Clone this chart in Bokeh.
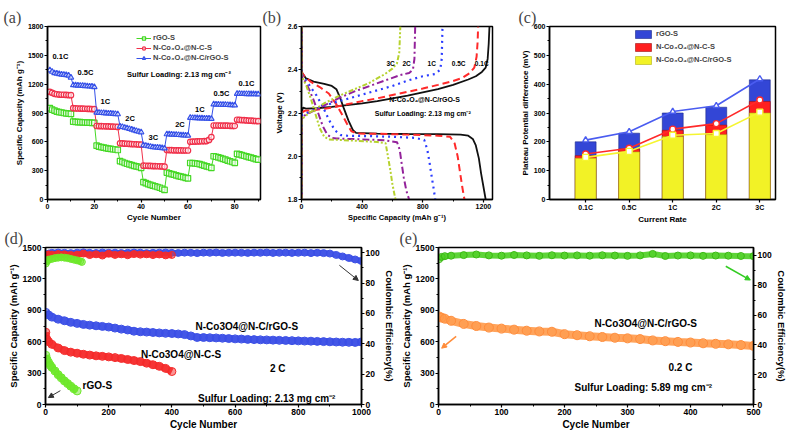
from bokeh.plotting import figure
from bokeh.layouts import column, row
from bokeh.models import (Range1d, LinearAxis, SingleIntervalTicker, FixedTicker,
                          NumeralTickFormatter, Label, Legend, LegendItem, Arrow, NormalHead)
from bokeh.embed import file_html
from bokeh.resources import INLINE

# ---------------- data: panel (a) rate capability ----------------
a_cycles = list(range(1, 91))
a_rates = ["0.1C", "0.5C", "1C", "2C", "3C", "2C", "1C", "0.5C", "0.1C"]
a_rgo = [950, 935, 925, 915, 910, 905, 900, 897, 893, 890,
         810, 808, 806, 805, 803, 802, 800, 800, 798, 797,
         560, 550, 545, 540, 535, 530, 527, 523, 520, 515,
         400, 390, 380, 372, 365, 358, 350, 345, 338, 330,
         180, 170, 160, 152, 145, 138, 130, 122, 112, 100,
         280, 272, 265, 258, 250, 244, 238, 232, 226, 220,
         380, 378, 376, 372, 368, 360, 352, 345, 338, 330,
         450, 445, 438, 430, 422, 415, 405, 398, 390, 382,
         475, 470, 462, 455, 448, 440, 435, 428, 420, 415]
a_nc = [1120, 1110, 1100, 1095, 1092, 1090, 1090, 1088, 1087, 1085,
        950, 948, 947, 946, 945, 944, 943, 942, 941, 940,
        765, 764, 763, 762, 761, 760, 759, 758, 757, 755,
        585, 583, 581, 580, 578, 577, 575, 574, 572, 570,
        352, 351, 350, 349, 348, 347, 346, 345, 344, 342,
        515, 514, 513, 512, 512, 511, 511, 510, 510, 510,
        600, 602, 603, 604, 605, 606, 607, 608, 620, 650,
        770, 770, 770, 769, 769, 768, 768, 767, 766, 765,
        830, 828, 826, 825, 823, 821, 820, 818, 817, 815]
a_ncrgo = [1345, 1330, 1315, 1310, 1305, 1300, 1298, 1295, 1290, 1270,
           1190, 1188, 1186, 1185, 1183, 1181, 1179, 1177, 1175, 1170,
           905, 903, 901, 900, 898, 896, 894, 892, 890, 888,
           760, 755, 748, 742, 735, 728, 720, 713, 706, 700,
           565, 560, 555, 550, 545, 542, 540, 538, 535, 532,
           680, 678, 676, 675, 673, 672, 670, 668, 667, 665,
           850, 849, 848, 847, 846, 845, 844, 843, 842, 840,
           990, 989, 988, 987, 986, 985, 984, 983, 982, 980,
           1100, 1100, 1099, 1099, 1098, 1098, 1097, 1097, 1096, 1095]
series_names = ["rGO-S", "N-Co\u2083O\u2084@N-C-S", "N-Co\u2083O\u2084@N-C/rGO-S"]

# ---------------- data: panel (b) voltage profiles ----------------
b_rates = ["0.1C", "0.5C", "1C", "2C", "3C"]
b_dis_cap = [
    [0, 0, 5, 30, 80, 150, 200, 230, 255, 280, 310, 340, 360, 500, 700, 900, 1050, 1100, 1130, 1150, 1170, 1185, 1200, 1215],
    [0, 0, 20, 60, 120, 180, 230, 270, 300, 330, 370, 500, 700, 900, 980, 1010, 1030, 1045, 1060, 1075],
    [0, 0, 20, 60, 100, 140, 180, 220, 260, 300, 450, 600, 750, 810, 830, 845, 860, 872, 882],
    [0, 0, 20, 50, 80, 110, 140, 170, 200, 230, 400, 550, 630, 648, 660, 675, 692, 710],
    [0, 0, 15, 30, 60, 90, 120, 150, 180, 350, 500, 555, 570, 585, 600, 620],
]
b_dis_v = [
    [2.6, 2.40, 2.385, 2.36, 2.345, 2.335, 2.325, 2.31, 2.27, 2.22, 2.165, 2.12, 2.108, 2.105, 2.103, 2.102, 2.10, 2.095, 2.08, 2.05, 1.99, 1.92, 1.86, 1.80],
    [2.6, 2.39, 2.37, 2.345, 2.32, 2.29, 2.24, 2.19, 2.15, 2.115, 2.105, 2.104, 2.10, 2.095, 2.09, 2.06, 2.00, 1.93, 1.86, 1.80],
    [2.6, 2.38, 2.36, 2.32, 2.28, 2.23, 2.17, 2.12, 2.098, 2.095, 2.093, 2.09, 2.085, 2.075, 2.03, 1.97, 1.90, 1.85, 1.80],
    [2.6, 2.37, 2.35, 2.31, 2.26, 2.20, 2.14, 2.10, 2.085, 2.082, 2.078, 2.074, 2.065, 2.03, 1.97, 1.90, 1.84, 1.80],
    [2.6, 2.37, 2.35, 2.33, 2.27, 2.20, 2.13, 2.09, 2.078, 2.072, 2.066, 2.06, 2.00, 1.94, 1.87, 1.80],
]
b_chg_cap = [
    [0, 0, 10, 30, 100, 200, 300, 400, 500, 600, 700, 800, 900, 1000, 1100, 1150, 1190, 1215, 1228, 1235, 1240],
    [0, 0, 20, 100, 200, 300, 400, 500, 600, 700, 800, 900, 1000, 1060, 1110, 1140, 1155, 1162, 1165],
    [0, 0, 100, 200, 300, 400, 500, 600, 700, 800, 880, 915, 925, 930],
    [0, 0, 50, 150, 250, 350, 450, 550, 650, 710, 735, 745, 750],
    [0, 0, 50, 150, 250, 350, 450, 550, 600, 630, 645, 652],
]
b_chg_v = [
    [1.8, 2.20, 2.225, 2.22, 2.222, 2.228, 2.236, 2.245, 2.255, 2.268, 2.28, 2.295, 2.31, 2.33, 2.355, 2.37, 2.39, 2.41, 2.45, 2.52, 2.6],
    [1.8, 2.20, 2.21, 2.215, 2.225, 2.24, 2.255, 2.268, 2.283, 2.298, 2.313, 2.33, 2.348, 2.362, 2.385, 2.41, 2.46, 2.53, 2.6],
    [1.8, 2.19, 2.22, 2.245, 2.265, 2.285, 2.305, 2.325, 2.35, 2.37, 2.38, 2.40, 2.45, 2.6],
    [1.8, 2.18, 2.20, 2.235, 2.27, 2.30, 2.325, 2.35, 2.375, 2.385, 2.40, 2.45, 2.6],
    [1.8, 2.17, 2.20, 2.245, 2.28, 2.31, 2.34, 2.38, 2.405, 2.43, 2.48, 2.6],
]

# ---------------- data: panel (c) plateau potential difference ----------------
c_rates = ["0.1C", "0.5C", "1C", "2C", "3C"]
c_pos = [1, 2, 3, 4, 5]
c_bar_rgo = [200, 230, 300, 320, 415]
c_bar_nc = [152, 175, 240, 258, 340]
c_bar_ncrgo = [143, 165, 218, 225, 300]
c_line_rgo = [206, 235, 305, 325, 418]
c_line_nc = [158, 178, 244, 263, 345]
c_line_ncrgo = [146, 167, 223, 229, 303]

# ---------------- data: panel (d) long cycling at 2 C ----------------
d_blue_cyc = [1, 10, 20, 40, 60, 80, 100, 120, 140, 160, 180, 200, 220, 240, 260, 280, 300, 320, 340, 360,
              380, 400, 420, 440, 460, 480, 500, 520, 540, 560, 580, 600, 620, 640, 660, 680, 700, 720, 740,
              760, 780, 800, 820, 840, 860, 880, 900, 920, 940, 960, 980, 1000]
d_blue_cap = [880, 855, 835, 815, 800, 785, 775, 765, 758, 752, 746, 740, 730, 720, 712, 700, 695, 692, 688, 684,
              680, 678, 674, 668, 655, 640, 640, 638, 636, 633, 630, 627, 625, 622, 620, 618, 617, 615, 613,
              612, 610, 608, 606, 605, 603, 601, 599, 597, 595, 594, 593, 598]
d_blue_ce = [98.0, 99.5, 100.0, 100.2, 100.0, 99.8, 100.1, 100.3, 100.0, 99.9, 100.2, 100.0, 100.1, 99.9, 100.0,
             100.2, 100.1, 99.8, 100.0, 100.1, 100.2, 100.0, 99.9, 100.1, 100.0, 99.8, 100.1, 100.0, 100.2, 99.9,
             100.0, 100.1, 100.0, 99.9, 100.1, 100.0, 100.2, 99.9, 100.0, 100.1, 99.9, 100.0, 100.1, 99.8, 100.0,
             99.8, 99.5, 98.6, 97.6, 96.6, 95.6, 94.6]
d_red_cyc = [1, 5, 10, 20, 40, 60, 80, 100, 120, 140, 160, 180, 200, 220, 240, 260, 280, 300, 320, 340, 360, 380, 400]
d_red_cap = [690, 620, 600, 575, 540, 515, 500, 490, 480, 472, 465, 460, 455, 448, 440, 430, 420, 410, 395, 380, 365, 345, 315]
d_red_ce = [97.0, 98.5, 99.0, 98.8, 99.2, 99.0, 98.6, 98.8, 99.5, 98.5, 99.0, 98.2, 99.4, 98.6, 99.0, 98.4, 99.2,
            98.8, 99.0, 98.5, 98.9, 98.3, 98.6]
d_green_cyc = [1, 5, 10, 15, 20, 30, 40, 50, 60, 70, 80, 90, 100]
d_green_cap = [470, 430, 400, 375, 355, 320, 285, 255, 225, 200, 175, 150, 130]
d_green_ce_cyc = [1, 5, 10, 20, 30, 40, 50, 60, 70, 80, 90, 100, 110, 115]
d_green_ce = [93.0, 94.5, 95.5, 96.0, 96.5, 96.8, 97.0, 96.8, 96.5, 96.0, 95.5, 95.0, 94.5, 94.0]

# ---------------- data: panel (e) high loading at 0.2 C ----------------
e_cyc = [1, 5, 10, 20, 40, 60, 80, 100, 120, 140, 160, 180, 200, 220, 240, 260, 280, 300, 320, 340,
         360, 380, 400, 420, 440, 460, 480, 500]
e_cap = [840, 830, 820, 800, 770, 750, 735, 725, 715, 705, 698, 695, 672, 662, 652, 645, 638, 632, 625, 612,
         605, 598, 592, 585, 580, 575, 568, 560]
e_ce = [97.5, 99.0, 99.5, 99.8, 100.2, 100.6, 100.0, 99.8, 100.3, 100.0, 99.7, 100.1, 99.9, 100.0, 99.8,
        100.1, 99.9, 99.7, 100.0, 101.0, 99.6, 99.9, 100.0, 99.7, 99.9, 99.8, 99.6, 99.5]

FONT = "Liberation Sans"
SERIF = "Liberation Serif"


def make_fig(width, height, xr, yr, ml, mr, mt, mb, title, offset, tsize="16px"):
    p = figure(width=width, height=height, x_range=Range1d(*xr), y_range=Range1d(*yr),
               min_border_left=ml, min_border_right=mr, min_border_top=mt, min_border_bottom=mb,
               output_backend="svg", toolbar_location=None, title=title)
    p.xgrid.visible = False
    p.ygrid.visible = False
    p.outline_line_color = "black"
    p.outline_line_width = 1.5
    p.outline_line_alpha = 1.0
    p.background_fill_color = "white"
    p.border_fill_color = "white"
    p.title.text_font = SERIF
    p.title.text_font_size = tsize
    p.title.text_font_style = "normal"
    p.title.align = "left"
    p.title.offset = offset
    p.title.standoff = 2
    return p


def style_axis(ax, tick_size, label_size):
    ax.major_label_text_font = FONT
    ax.major_label_text_font_style = "bold"
    ax.major_label_text_font_size = tick_size
    ax.major_label_text_color = "black"
    ax.axis_label_text_font = FONT
    ax.axis_label_text_font_style = "bold"
    ax.axis_label_text_font_size = label_size
    ax.axis_label_text_color = "black"
    ax.axis_line_width = 1.5
    ax.major_tick_line_width = 1.2
    ax.minor_tick_line_width = 1
    ax.major_tick_out = 3
    ax.major_tick_in = 0
    ax.minor_tick_out = 2
    ax.minor_tick_in = 0
    ax.major_label_standoff = 1
    ax.axis_label_standoff = 1


def add_text(p, x, y, text, size, color="black", align="center", style="bold", font=FONT):
    p.add_layout(Label(x=x, y=y, text=text, text_font=font, text_font_size=size,
                       text_font_style=style, text_color=color, text_align=align,
                       text_baseline="middle"))


# ======================= panel (a) =======================
pa = make_fig(262, 226, (0, 91), (0, 1800), 47, 2, 25, 27, "(a)", -44)
pa.xaxis.ticker = SingleIntervalTicker(interval=20, num_minor_ticks=2)
pa.yaxis.ticker = SingleIntervalTicker(interval=300, num_minor_ticks=2)
pa.xaxis.axis_label = "Cycle Number"
pa.yaxis.axis_label = "Specific Capacity (mAh g\u207b\u00b9)"
style_axis(pa.xaxis[0], "7px", "8px")
style_axis(pa.yaxis[0], "7px", "8px")

a_colors = ["#44d824", "#f0304a", "#3550e8"]
a_markers = ["square", "circle", "triangle"]
a_items = []
for name, vals, col, mk in zip(series_names, [a_rgo, a_nc, a_ncrgo], a_colors, a_markers):
    ln = pa.line(a_cycles, vals, line_color=col, line_width=1)
    sc = pa.scatter(a_cycles, vals, marker=mk, size=5.5, fill_color="white", fill_alpha=0.6,
                    line_color=col, line_width=1.2)
    a_items.append(LegendItem(label=name, renderers=[ln, sc]))
leg_a = Legend(items=a_items, location=(89, 137), background_fill_alpha=0, border_line_color=None,
               label_text_font=FONT, label_text_font_size="7.5px", label_text_font_style="bold",
               glyph_width=15, glyph_height=8, label_height=8, spacing=1, padding=2, margin=0,
               label_standoff=2)
pa.add_layout(leg_a)
a_label_pos = [(5.5, 1489), (16.2, 1317), (24.7, 1024), (35.3, 838), (45.2, 644),
               (56.6, 783), (65.1, 938), (74.3, 1099), (85.0, 1203)]
for txt, (lx, ly) in zip(a_rates, a_label_pos):
    add_text(pa, lx, ly, txt, "7.5px")
add_text(pa, 34, 1303, "Sulfur Loading: 2.13 mg cm\u207b\u00b2", "7.5px", align="left")

# ======================= panel (b) =======================
pb = make_fig(250, 226, (0, 1260), (1.8, 2.6), 39, 20, 26, 26, "(b)", -39)
pb.xaxis.ticker = SingleIntervalTicker(interval=400, num_minor_ticks=2)
pb.yaxis.ticker = SingleIntervalTicker(interval=0.2, num_minor_ticks=2)
pb.yaxis.formatter = NumeralTickFormatter(format="0.0")
pb.xaxis.axis_label = "Specific Capacity (mAh g\u207b\u00b9)"
pb.yaxis.axis_label = "Voltage (V)"
style_axis(pb.xaxis[0], "7px", "7.5px")
style_axis(pb.yaxis[0], "7px", "8px")

b_colors = ["#111111", "#ff2a2a", "#2a3cff", "#93229a", "#b6d22e"]
b_dash = ["solid", "7 4", "2 4", "7 3 2 3", "5 2 2 2 2 2"]
b_width = [1.8, 2.0, 2.2, 2.0, 2.0]
for i in range(len(b_rates)):
    pb.line(b_dis_cap[i], b_dis_v[i], line_color=b_colors[i], line_dash=b_dash[i], line_width=b_width[i])
    pb.line(b_chg_cap[i], b_chg_v[i], line_color=b_colors[i], line_dash=b_dash[i], line_width=b_width[i])
b_label_x = [1189, 1037, 859, 693, 588]
for txt, lx in zip(b_rates, b_label_x):
    add_text(pb, lx, 2.43, txt, "6.5px")
add_text(pb, 812, 2.262, "N-Co\u2083O\u2084@N-C/rGO-S", "7px")
add_text(pb, 800, 2.20, "Sulfur Loading: 2.13 mg cm\u207b\u00b2", "7px")

# ======================= panel (c) =======================
pc = make_fig(277, 226, (0.17, 5.36), (0, 600), 37, 14, 26, 24, "(c)", -31)
pc.xaxis.ticker = FixedTicker(ticks=c_pos)
pc.xaxis.major_label_overrides = {pos: lab for pos, lab in zip(c_pos, c_rates)}
pc.yaxis.ticker = SingleIntervalTicker(interval=100, num_minor_ticks=2)
pc.xaxis.axis_label = "Current Rate"
pc.yaxis.axis_label = "Plateau Potential difference (mV)"
style_axis(pc.xaxis[0], "7px", "8px")
style_axis(pc.yaxis[0], "7px", "8px")
pc.xaxis.minor_tick_line_color = None

bar_cols = ["#3346d6", "#ff1f1f", "#f2f226"]
bar_lines = ["#1d2a8a", "#a01010", "#b0b010"]
c_items = []
for name, vals, col, lc in zip(series_names, [c_bar_rgo, c_bar_nc, c_bar_ncrgo], bar_cols, bar_lines):
    r = pc.vbar(x=c_pos, top=vals, width=0.48, fill_color=col, line_color=lc, line_width=0.6)
    c_items.append(LegendItem(label=name, renderers=[r]))
line_cols = ["#4a5cf0", "#ff2a2a", "#f5f530"]
for vals, col, mk in zip([c_line_rgo, c_line_nc, c_line_ncrgo], line_cols, ["triangle", "circle", "square"]):
    pc.line(c_pos, vals, line_color=col, line_width=1.6)
    pc.scatter(c_pos, vals, marker=mk, size=6, fill_color="white", line_color=col, line_width=1.4)
leg_c = Legend(items=c_items, location=(84, 134), background_fill_alpha=0, border_line_color=None,
               label_text_font=FONT, label_text_font_size="7.5px", label_text_font_style="bold",
               glyph_width=20, glyph_height=10, label_height=11, spacing=2, padding=2, margin=0,
               label_standoff=3)
pc.add_layout(leg_c)

# ======================= panel (d) =======================
pd_ = make_fig(397, 213, (0, 1000), (0, 1500), 45, 35, 19, 35, "(d)", -41)
pd_.extra_y_ranges = {"ce": Range1d(0, 103.5)}
ax_r = LinearAxis(y_range_name="ce", axis_label="Coulombic Efficiency(%)")
pd_.add_layout(ax_r, "right")
pd_.xaxis[0].ticker = SingleIntervalTicker(interval=200, num_minor_ticks=2)
pd_.yaxis[0].ticker = SingleIntervalTicker(interval=300, num_minor_ticks=2)
ax_r.ticker = SingleIntervalTicker(interval=20, num_minor_ticks=2)
pd_.xaxis[0].axis_label = "Cycle Number"
pd_.yaxis[0].axis_label = "Specific Capacity (mAh g\u207b\u00b9)"
style_axis(pd_.xaxis[0], "8.5px", "10px")
style_axis(pd_.yaxis[0], "8.5px", "9.5px")
style_axis(ax_r, "8.5px", "9.5px")

d_sets = [
    (d_blue_cyc, d_blue_cap, d_blue_cyc, d_blue_ce, "#3a4ee6"),
    (d_red_cyc, d_red_cap, d_red_cyc, d_red_ce, "#f52a2a"),
    (d_green_cyc, d_green_cap, d_green_ce_cyc, d_green_ce, "#6ee82a"),
]
for cx, cy, ex, ey, col in d_sets:
    pd_.line(cx, cy, line_color=col, line_width=7, line_alpha=0.9)
    pd_.scatter(cx, cy, marker="circle", size=8, fill_color=col, fill_alpha=0.5, line_color=col, line_width=1)
    pd_.line(ex, ey, line_color=col, line_width=6, line_alpha=0.9, y_range_name="ce")
    pd_.scatter(ex, ey, marker="circle", size=7, fill_color=col, fill_alpha=0.5, line_color=col,
                line_width=1, y_range_name="ce")
add_text(pd_, 637, 745, "N-Co3O4@N-C/rGO-S", "10px")
add_text(pd_, 429, 481, "N-Co3O4@N-C-S", "10px")
add_text(pd_, 164, 179, "rGO-S", "10px")
add_text(pd_, 735, 340, "2 C", "10px")
add_text(pd_, 700, 60, "Sulfur Loading: 2.13 mg cm\u207b\u00b2", "10px")
pd_.add_layout(Arrow(end=NormalHead(size=5, fill_color="#333333", line_color="#333333"),
                     x_start=930, y_start=1330, x_end=990, y_end=1185,
                     line_color="#333333", line_width=1))
pd_.add_layout(Arrow(end=NormalHead(size=5, fill_color="#333333", line_color="#333333"),
                     x_start=47, y_start=132, x_end=9, y_end=66,
                     line_color="#333333", line_width=1))

# ======================= panel (e) =======================
pe = make_fig(392, 213, (0, 500), (0, 1500), 40, 34, 20, 34, "(e)", -39)
pe.extra_y_ranges = {"ce": Range1d(0, 105.3)}
ax_re = LinearAxis(y_range_name="ce", axis_label="Coulombic Efficiency(%)")
pe.add_layout(ax_re, "right")
pe.xaxis[0].ticker = SingleIntervalTicker(interval=100, num_minor_ticks=2)
pe.yaxis[0].ticker = SingleIntervalTicker(interval=300, num_minor_ticks=2)
ax_re.ticker = SingleIntervalTicker(interval=20, num_minor_ticks=2)
pe.xaxis[0].axis_label = "Cycle Number"
pe.yaxis[0].axis_label = "Specific Capacity (mAh g\u207b\u00b9)"
style_axis(pe.xaxis[0], "8.5px", "10px")
style_axis(pe.yaxis[0], "8.5px", "9.5px")
style_axis(ax_re, "8.5px", "9.5px")

pe.line(e_cyc, e_cap, line_color="#ff9a4a", line_width=8, line_alpha=0.9)
pe.scatter(e_cyc, e_cap, marker="circle", size=9, fill_color="#ff9a4a", fill_alpha=0.5,
           line_color="#ff8c3a", line_width=1)
pe.line(e_cyc, e_ce, line_color="#4ccf22", line_width=6, line_alpha=0.9, y_range_name="ce")
pe.scatter(e_cyc, e_ce, marker="circle", size=7, fill_color="#4ccf22", fill_alpha=0.5,
           line_color="#3cb814", line_width=1, y_range_name="ce")
add_text(pe, 329, 773, "N-Co3O4@N-C/rGO-S", "10px")
add_text(pe, 384, 349, "0.2 C", "10px")
add_text(pe, 325, 160, "Sulfur Loading: 5.89 mg cm\u207b\u00b2", "10px")
pe.add_layout(Arrow(end=NormalHead(size=5, fill_color="#33cc22", line_color="#33cc22"),
                    x_start=456, y_start=1321, x_end=495, y_end=1189,
                    line_color="#33cc22", line_width=1.5))
pe.add_layout(Arrow(end=NormalHead(size=5, fill_color="#ff8c3a", line_color="#ff8c3a"),
                    x_start=28, y_start=651, x_end=5, y_end=538,
                    line_color="#ff8c3a", line_width=1.5))

layout = column(row(pa, pb, pc, spacing=0), row(pd_, pe, spacing=0), spacing=0)
open("out.html", "w").write(file_html(layout, INLINE))
